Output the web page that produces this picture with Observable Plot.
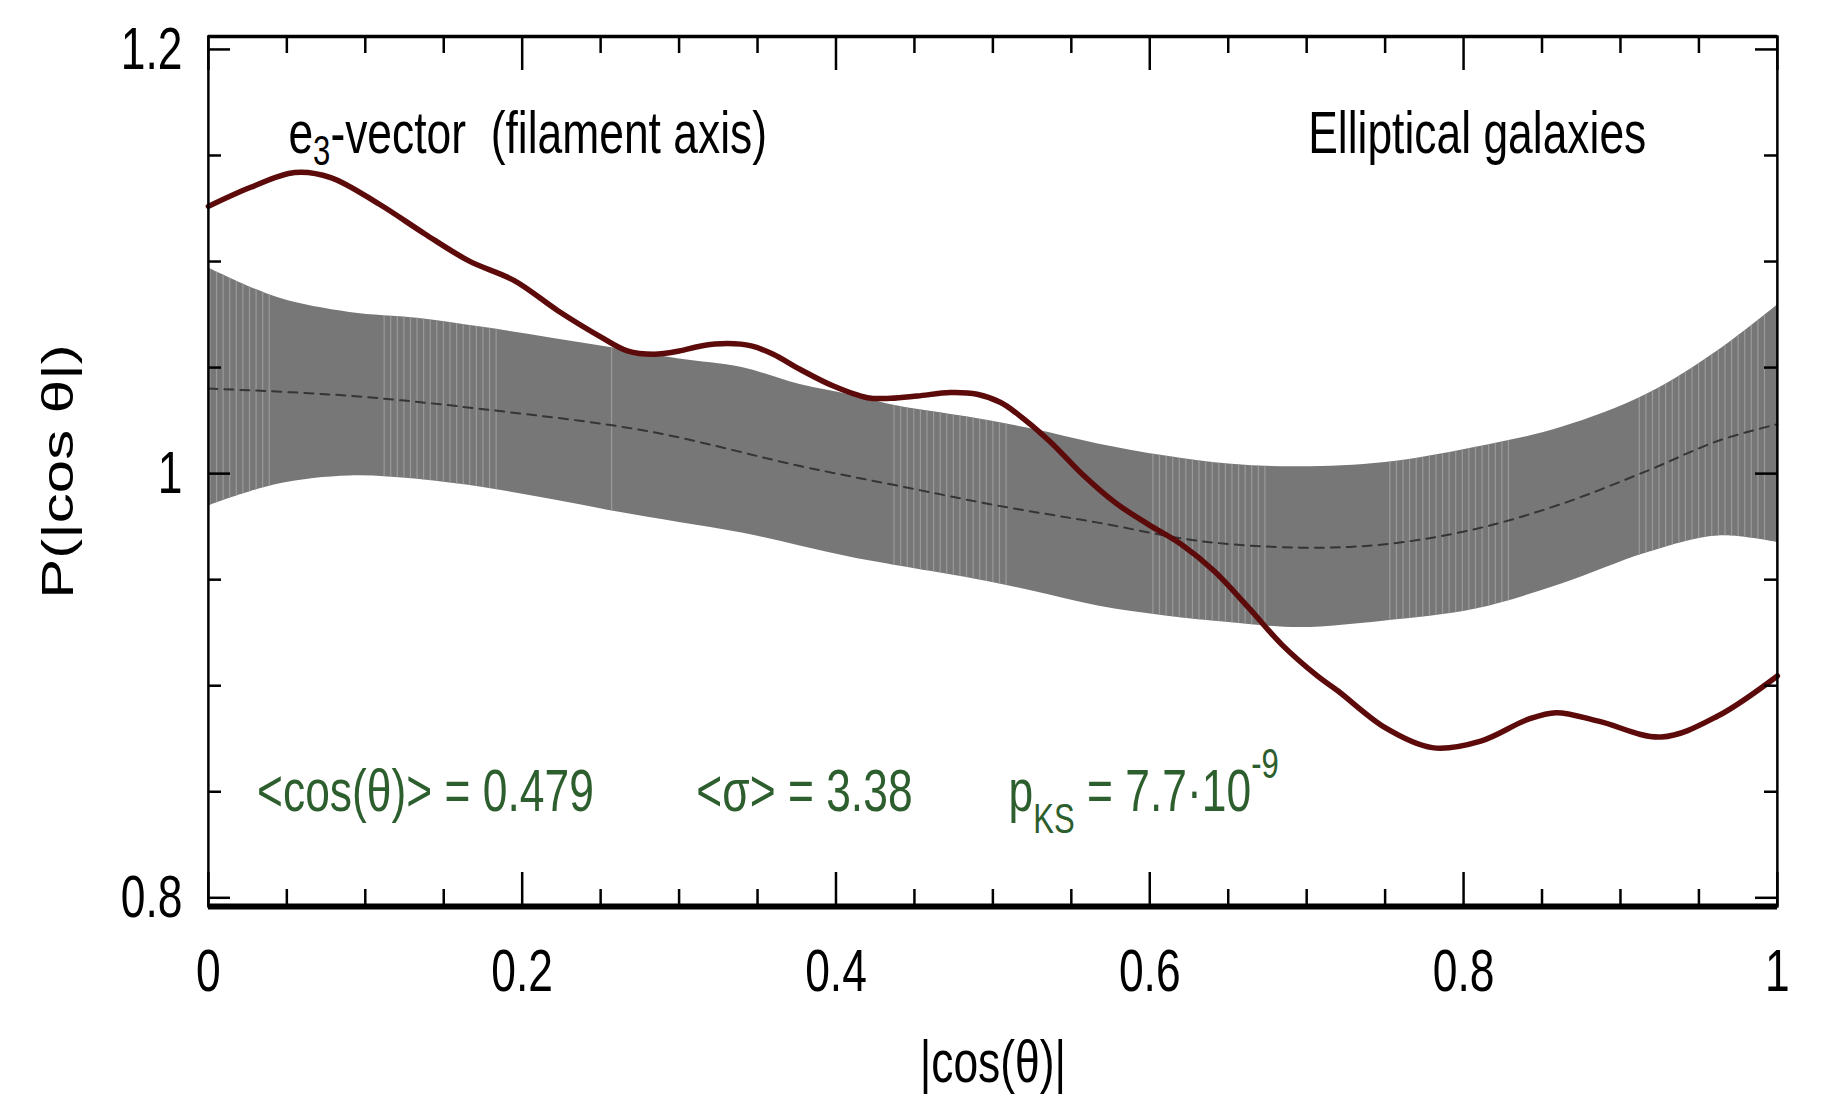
<!DOCTYPE html>
<html>
<head>
<meta charset="utf-8">
<script src="https://cdn.jsdelivr.net/npm/d3@7"></script>
<script src="https://cdn.jsdelivr.net/npm/@observablehq/plot@0.6"></script>
<style>
  html, body { margin: 0; padding: 0; background: #fff; overflow: hidden; }
  #chart { width: 1845px; height: 1097px; overflow: hidden; }
</style>
</head>
<body>
<div id="chart"></div>
<script>
// ---- data ----
const curveX = [0, 0.027, 0.055, 0.078, 0.109, 0.138, 0.166, 0.195, 0.223, 0.25, 0.267, 0.284, 0.30, 0.314, 0.331, 0.346, 0.36, 0.377, 0.398, 0.42, 0.435, 0.452, 0.473, 0.49, 0.505, 0.515, 0.536, 0.557, 0.578, 0.599, 0.62, 0.641, 0.663, 0.684, 0.707, 0.72, 0.75, 0.78, 0.811, 0.841, 0.859, 0.886, 0.926, 0.962, 1.0];
const curveY = [1.126, 1.135, 1.142, 1.1396, 1.127, 1.113, 1.1003, 1.091, 1.0767, 1.0645, 1.0579, 1.0563, 1.0578, 1.0602, 1.0613, 1.0602, 1.0563, 1.0492, 1.0414, 1.0358, 1.0355, 1.0366, 1.0382, 1.0374, 1.0335, 1.0285, 1.0154, 0.9997, 0.9863, 0.9761, 0.9667, 0.9541, 0.9368, 0.9195, 0.9045, 0.8975, 0.8802, 0.8708, 0.8739, 0.8841, 0.8873, 0.8833, 0.8758, 0.8857, 0.9046];

const bandX  = [0, 0.044, 0.09, 0.133, 0.175, 0.218, 0.26, 0.30, 0.34, 0.377, 0.41, 0.44, 0.483, 0.525, 0.567, 0.61, 0.652, 0.696, 0.75, 0.807, 0.862, 0.917, 0.962, 1.0];
const bandHi = [1.097, 1.083, 1.076, 1.0733, 1.069, 1.064, 1.059, 1.054, 1.050, 1.042, 1.037, 1.0318, 1.0268, 1.021, 1.014, 1.0083, 1.0044, 1.0032, 1.0052, 1.0123, 1.0217, 1.0375, 1.0579, 1.0795];
const bandLo = [0.9848, 0.995, 0.9989, 0.9973, 0.9934, 0.9879, 0.982, 0.977, 0.972, 0.9659, 0.9605, 0.9565, 0.951, 0.9447, 0.9376, 0.9329, 0.9297, 0.9274, 0.9305, 0.936, 0.9478, 0.9627, 0.9706, 0.9675];

const meanX = [0, 0.09, 0.175, 0.28, 0.377, 0.44, 0.504, 0.567, 0.631, 0.696, 0.75, 0.807, 0.862, 0.917, 0.962, 1.0];
const meanY = [1.0401, 1.0367, 1.0304, 1.020, 1.0036, 0.9942, 0.9848, 0.9769, 0.9683, 0.9651, 0.9667, 0.9738, 0.9856, 1.0013, 1.0154, 1.0233];

const xTicks = [0, 0.2, 0.4, 0.6, 0.8, 1];
const xMinorTicks = [0.05, 0.1, 0.15, 0.25, 0.3, 0.35, 0.45, 0.5, 0.55, 0.65, 0.7, 0.75, 0.85, 0.9, 0.95];
const yTicks = [0.8, 1, 1.2];
const yMinorTicks = [0.85, 0.9, 0.95, 1.05, 1.1, 1.15];

const xLabel = "|cos(θ)|";
const yLabel = "P(|cos θ|)";
const titleLeft = "e3-vector  (filament axis)";
const titleRight = "Elliptical galaxies";
const statMean = "<cos(θ)> = 0.479";
const statSigma = "<σ> = 3.38";
const statKS = "pKS = 7.7·10-9";

// stripe texture of the shaded band (rendering artefact of the original)
const stripeClusters = [[0.001, 0.042], [0.112, 0.187], [0.257, 0.258], [0.437, 0.512], [0.602, 0.677], [0.753, 0.831], [0.912, 0.993]];

// ---- layout ----
const SX = 0.74;                 // horizontal condensation of the original figure
const FULL_W = 1845, FULL_H = 1097;
const W = Math.round(FULL_W / SX);
const mL = 208 / SX, mR = (FULL_W - 1777) / SX, mT = 36, mB = FULL_H - 906;
const plotW = W - mL - mR, plotH = FULL_H - mT - mB;
const yDomain = [0.7959, 1.2061];

const curve = curveX.map((x, i) => ({x, y: curveY[i]}));
const band = bandX.map((x, i) => ({x, lo: bandLo[i], hi: bandHi[i]}));
const mean = meanX.map((x, i) => ({x, y: meanY[i]}));
const stripes = stripeClusters.flatMap(([a, b]) => d3.range(a, b + 1e-9, 0.0042));

const green = "#2d5e2d";
const fs = 60;

const chart = Plot.plot({
  width: W,
  height: FULL_H,
  marginLeft: mL, marginRight: mR, marginTop: mT, marginBottom: mB,
  x: {domain: [0, 1], label: null},
  y: {domain: yDomain, label: null},
  style: {fontFamily: "'Liberation Sans', Arial, Helvetica, sans-serif", fontSize: fs + "px", background: "white", color: "black"},
  marks: [
    Plot.areaY(band, {x: "x", y1: "lo", y2: "hi", fill: "#777777", curve: "catmull-rom"}),
    Plot.ruleX(stripes, {stroke: "#9a9a9a", strokeWidth: 1.2}),
    Plot.lineY(mean, {x: "x", y: "y", stroke: "#353535", strokeWidth: 2, strokeDasharray: "9,7", curve: "catmull-rom"}),
    Plot.lineY(curve, {x: "x", y: "y", stroke: "#5c0a0a", strokeWidth: 5.5, curve: "catmull-rom"}),
    // inward ticks
    Plot.ruleX(xMinorTicks, {stroke: "black", strokeWidth: 2.5, insetTop: plotH - 17}),
    Plot.ruleX(xMinorTicks, {stroke: "black", strokeWidth: 2.5, insetBottom: plotH - 17}),
    Plot.ruleX(xTicks, {stroke: "black", strokeWidth: 2.5, insetTop: plotH - 34}),
    Plot.ruleX(xTicks, {stroke: "black", strokeWidth: 2.5, insetBottom: plotH - 34}),
    Plot.ruleY(yMinorTicks, {stroke: "black", strokeWidth: 2.5, insetRight: plotW - 13 / SX}),
    Plot.ruleY(yMinorTicks, {stroke: "black", strokeWidth: 2.5, insetLeft: plotW - 13 / SX}),
    Plot.ruleY(yTicks, {stroke: "black", strokeWidth: 2.5, insetRight: plotW - 22 / SX}),
    Plot.ruleY(yTicks, {stroke: "black", strokeWidth: 2.5, insetLeft: plotW - 22 / SX}),
    Plot.frame({stroke: "black", strokeWidth: 2.5}),
    Plot.ruleY([yDomain[1]], {stroke: "black", strokeWidth: 3.5}),
    Plot.ruleY([yDomain[0]], {stroke: "black", strokeWidth: 6}),
    // axes (labels only)
    Plot.axisX(xTicks, {tickSize: 0, tickPadding: 42, tickFormat: d => String(d), fontSize: fs, label: null}),
    Plot.axisY(yTicks, {tickSize: 0, tickPadding: 35, tickFormat: d => String(d), fontSize: fs, label: null}),
    Plot.text([xLabel], {frameAnchor: "bottom", dy: 156, fontSize: fs, textAnchor: "middle", lineAnchor: "middle"}),
    Plot.text([yLabel], {frameAnchor: "left", dx: 79 - mL, rotate: -90, fontSize: fs, textAnchor: "middle", lineAnchor: "middle"}),
    // annotations
    Plot.text([titleLeft], {x: 0.051, y: 1.160, textAnchor: "start", fontSize: fs, fill: "black"}),
    Plot.text([titleRight], {x: 0.701, y: 1.160, textAnchor: "start", fontSize: fs, fill: "black"}),
    Plot.text([statMean], {x: 0.031, y: 0.850, textAnchor: "start", fontSize: fs, fill: green}),
    Plot.text([statSigma], {x: 0.311, y: 0.850, textAnchor: "start", fontSize: fs, fill: green}),
    Plot.text([statKS], {x: 0.51, y: 0.850, textAnchor: "start", fontSize: fs, fill: green})
  ]
});

// squash horizontally like the original figure
chart.setAttribute("width", FULL_W);
chart.setAttribute("height", FULL_H);
chart.setAttribute("preserveAspectRatio", "none");
chart.style.maxWidth = "none";
chart.style.width = FULL_W + "px";
chart.style.height = FULL_H + "px";

// uniform screen-space stroke widths
chart.querySelectorAll("path, line, rect").forEach(el => el.setAttribute("vector-effect", "non-scaling-stroke"));

// clip the stripe texture to the band
const areaPath = chart.querySelector('g[aria-label="area"] path');
const stripeG = chart.querySelector('g[aria-label="rule"][stroke="#9a9a9a"]');
if (areaPath && stripeG) {
  const ns = "http://www.w3.org/2000/svg";
  const defs = document.createElementNS(ns, "defs");
  const cp = document.createElementNS(ns, "clipPath");
  cp.setAttribute("id", "bandclip");
  const p = document.createElementNS(ns, "path");
  p.setAttribute("d", areaPath.getAttribute("d"));
  const tr = areaPath.parentNode.getAttribute("transform");
  if (tr) p.setAttribute("transform", tr);
  cp.appendChild(p);
  defs.appendChild(cp);
  chart.insertBefore(defs, chart.firstChild);
  const wrap = document.createElementNS(ns, "g");
  wrap.setAttribute("clip-path", "url(#bandclip)");
  stripeG.parentNode.insertBefore(wrap, stripeG);
  wrap.appendChild(stripeG);
}

// sub/superscripts
function rich(key, parts) {
  chart.querySelectorAll("text").forEach(t => {
    if (t.textContent !== key) return;
    t.textContent = "";
    let shift = 0;
    for (const part of parts) {
      const ts = document.createElementNS("http://www.w3.org/2000/svg", "tspan");
      ts.textContent = part.t;
      const s = part.shift || 0;
      if (s !== shift) ts.setAttribute("dy", s - shift);
      shift = s;
      if (part.size) ts.setAttribute("font-size", part.size);
      t.appendChild(ts);
    }
  });
}
rich(titleLeft, [{t: "e"}, {t: "3", size: 42, shift: 12}, {t: "-vector  (filament axis)"}]);
rich(statKS, [{t: "p"}, {t: "KS", size: 42, shift: 22}, {t: " = 7.7·10"}, {t: "-9", size: 42, shift: -33}]);

document.getElementById("chart").appendChild(chart);
</script>
</body>
</html>
